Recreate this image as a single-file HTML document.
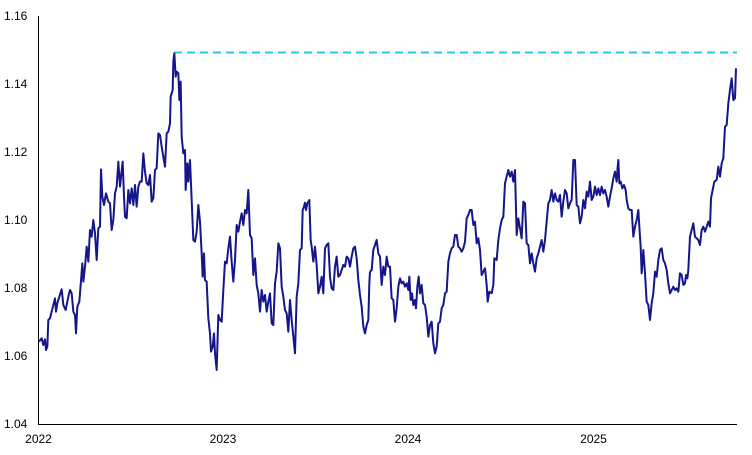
<!DOCTYPE html>
<html><head><meta charset="utf-8"><style>
html,body{margin:0;padding:0;background:#fff;}
svg{display:block;font-family:"Liberation Sans",Arial,sans-serif;}
</style></head><body>
<svg width="752" height="455" viewBox="0 0 752 455" xmlns="http://www.w3.org/2000/svg">
<g font-size="12" fill="#000">
<text x="4" y="20">1.16</text>
<text x="4" y="88">1.14</text>
<text x="4" y="156">1.12</text>
<text x="4" y="224">1.10</text>
<text x="4" y="292">1.08</text>
<text x="4" y="360">1.06</text>
<text x="4" y="428">1.04</text>
<text x="38.5" y="443" text-anchor="middle">2022</text>
<text x="223" y="443" text-anchor="middle">2023</text>
<text x="408" y="443" text-anchor="middle">2024</text>
<text x="593.5" y="443" text-anchor="middle">2025</text>
</g>
<line x1="38.5" y1="16" x2="38.5" y2="424.5" stroke="#000" stroke-width="1"/>
<line x1="38" y1="424.5" x2="737" y2="424.5" stroke="#000" stroke-width="1"/>
<line x1="174" y1="52.5" x2="737" y2="52.5" stroke="#22c8e8" stroke-width="2" stroke-dasharray="8,5"/>
<g fill="none" stroke="#14168a" stroke-width="6" stroke-linejoin="round">
<polyline transform="scale(0.33333)" points="117,1025 125,1015 130,1035 135,1018 138,1050 142,1040 145,960 150,955 155,935 160,915 165,895 168,935 172,910 178,890 185,868 190,915 197,930 205,890 210,870 215,880 220,935 225,945 228,1000 232,920 238,905 242,855 247,790 250,845 255,800 260,740 265,785 270,690 275,710 280,660 285,700 290,780 295,685 300,680 303,508 307,590 312,615 318,580 325,605 330,610 335,690 340,660 345,580 350,560 355,485 360,560 368,485 372,590 375,650 380,655 385,570 390,610 395,565 400,615 405,555 410,620 415,560 420,545 425,545 430,460 435,515 440,550 445,555 450,525 455,605 460,595 465,510 470,505 475,400 480,405 485,440 490,470 495,500 500,400 505,395 510,370 512,290 518,270 520,185 523,160 527,230 530,215 535,220 538,300 542,245 545,410 550,460 555,450 557,570 562,490 565,545 570,480 575,600 580,720 585,725 590,695 595,615 600,665 605,760 608,830 612,760 615,840 620,845 625,955 630,1000 633,1055 638,1040 642,1000 645,1060 650,1110 655,945 660,960 665,965 670,870 675,785 680,790 685,745 690,710 695,785 700,845 705,780 710,675 715,695 720,665 725,640 730,675 735,630 740,640 745,570 750,705 755,715 760,825 765,775 770,855 775,880 780,935 785,870 790,905 795,885 800,935 805,905 810,880 815,970 820,975 825,850 830,815 835,730 840,745 845,860 850,890 855,930 860,940 865,995 870,900 875,960 880,1010 885,1060 890,890 895,850 900,750 905,745 908,630 912,620 915,608 918,630 922,610 928,600 932,720 935,740 940,785 945,740 950,795 955,880 960,860 965,830 970,880 975,745 980,735 985,730 990,830 995,865 1000,870 1005,800 1010,770 1015,830 1020,825 1030,795 1035,800 1040,770 1045,775 1050,800 1055,770 1060,745 1065,740 1070,775 1075,840 1080,885 1085,920 1090,980 1095,1000 1100,975 1105,960 1108,850 1110,815"/>
<polyline transform="translate(370,0) scale(0.33333)" points="0,815 5,810 10,750 20,720 25,760 30,770 35,855 40,800 45,825 50,770 55,800 60,800 65,895 70,900 75,965 80,925 85,860 90,835 95,850 100,845 105,860 110,850 115,870 118,830 122,900 126,880 130,915 135,900 138,925 142,860 146,830 150,880 155,855 160,910 165,915 170,950 175,1010 180,975 185,965 190,1030 195,1060 200,1040 205,970 210,965 215,925 220,915 225,880 230,875 235,785 240,760 245,745 250,740 255,705 260,705 265,740 270,745 275,755 280,745 285,725 290,655 295,645 300,630 305,630 310,675 315,665 320,730 325,715 330,750 335,825 340,815 345,805 350,855 353,905 358,875 365,880 370,855 373,775 380,780 385,720 390,685 395,660 400,650 405,550 410,530 415,510 420,530 425,515 430,545 435,510 440,705 445,655 450,685 455,715 460,605 465,610 470,730 475,735 480,790 485,760 490,790 495,815 500,775 505,760 510,740 515,720 520,755 525,720 530,665 535,610 540,600 545,570 550,605 555,580 560,600 565,605 570,585 575,650 580,605 585,570 590,580 595,625 600,610 605,600 610,480 615,480 620,615 625,620 630,670 635,650 640,600 645,625 650,575 655,590 660,545 665,600 670,590 675,560 680,585 685,565 690,585 695,560 700,580 705,570 710,590 715,620 720,590 725,565 730,535 735,515 740,545 743,500 745,480 748,550 752,545 757,565 762,555 767,570 770,600 775,625 780,630 785,630 790,710 795,680 800,660 805,630 808,680 812,740 815,820 820,750 825,820 830,905 835,915 840,960 845,910 850,880 855,815 860,830 865,780 870,750 875,745 880,780 885,790 890,810 895,850 900,880 905,870 910,860 915,870 920,865 925,875 930,820 935,825 940,855 945,850 948,825 952,835 955,810 960,710 965,690 970,670 975,710 980,715 985,720 990,735 995,690 1000,680 1005,695 1010,680 1015,665 1020,680 1023,595 1028,570 1033,545 1040,540 1045,500 1050,530 1055,490 1060,475 1065,380 1070,375 1075,310 1080,270 1085,235 1090,300 1095,295 1098,205"/>
</g>
</svg>
</body></html>
